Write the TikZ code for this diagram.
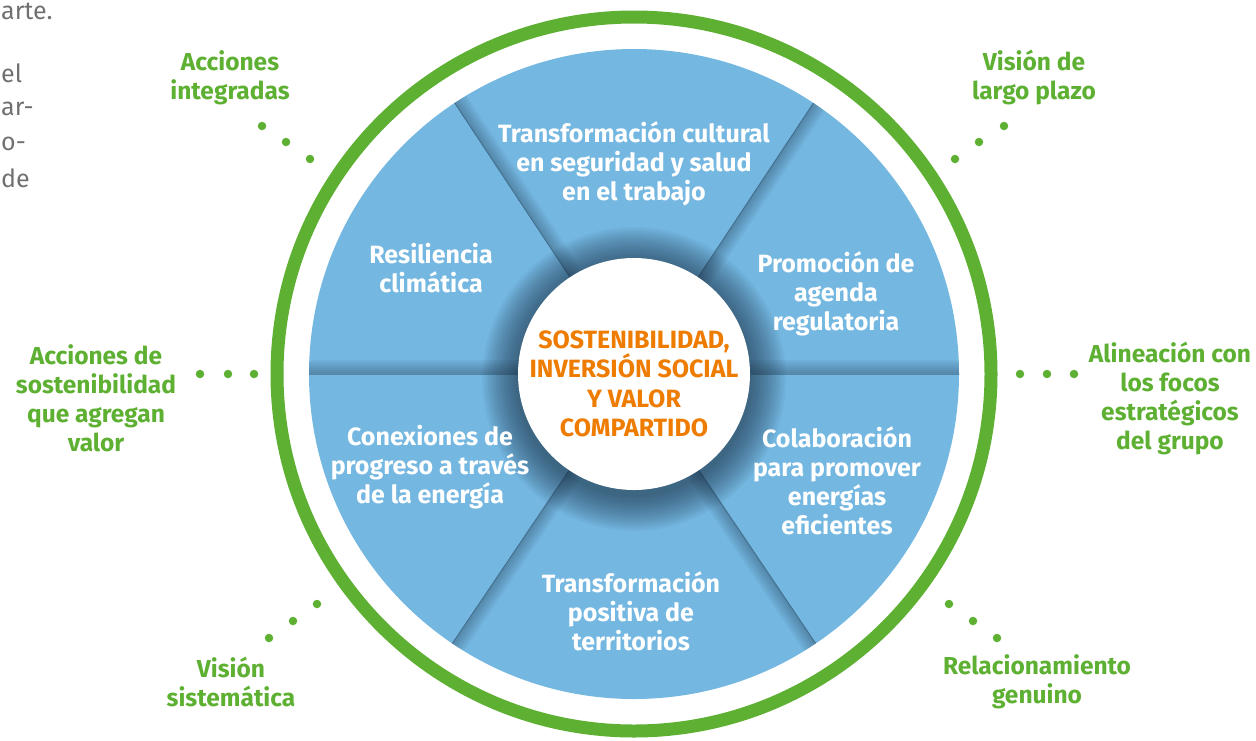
\documentclass[tikz,border=0pt]{standalone}
\usepackage{fontspec}
\setmainfont{Fira Sans}
\definecolor{ringgreen}{RGB}{94,176,50}
\definecolor{segblue}{RGB}{116,183,225}
\definecolor{coreorange}{RGB}{238,124,0}
\definecolor{shadowc}{RGB}{25,45,65}
\definecolor{greytext}{RGB}{112,112,112}
\begin{document}
\begin{tikzpicture}[x=1pt,y=-1pt,
  seglabel/.style={text=white, font=\bfseries\fontsize{25}{29}\selectfont, align=center, inner sep=0},
  outlabel/.style={text=ringgreen, font=\bfseries\fontsize{24.5}{29}\selectfont, align=center, inner sep=0},
  corelabel/.style={text=coreorange, font=\bfseries\fontsize{25}{29.5}\selectfont, align=center, inner sep=0},
  greyfrag/.style={text=greytext, font=\fontsize{25}{35}\selectfont, inner sep=0, anchor=base west},
  gdot/.style={circle, fill=ringgreen, inner sep=0, minimum size=8.5pt},
  ring/.style={draw=ringgreen, line width=13pt},
  shade/.style={fill=shadowc, opacity=0.05},
  divline/.style={draw=shadowc, opacity=0.35, line width=1pt}
]
\useasboundingbox (0,0) rectangle (1256,740);
\coordinate (C) at (634,374);

% grey text fragments at the left edge
\node[greyfrag] (g1) at (1,19) {arte.};
\node[greyfrag] (g2) at (1,82) {el};
\node[greyfrag] (g3) at (1,115) {ar-};
\node[greyfrag] (g4) at (1,150) {o-};
\node[greyfrag] (g5) at (1,187) {de};

% green ring
\draw[ring] (C) circle[radius=357pt];

% blue disk with shading
\fill[segblue] (C) circle[radius=325pt];
\begin{scope}
  \clip (C) circle[radius=325pt];
  \foreach \a/\s in {0/1, 56.5/-1, 123.5/-1, 180/-1, 236/1, 304/-1}{
    \begin{scope}[shift={(C)}, rotate=\a]
      \foreach \k in {2,4,...,14}{
        \fill[shade] (110pt,0pt) rectangle (330pt,\s*\k pt);
      }
      \draw[divline] (110pt,0pt) -- (330pt,0pt);
    \end{scope}
  }
  \foreach \r in {118,120,...,152}{
    \fill[fill=shadowc, opacity=0.045] (634,379) circle[radius=\r pt];
  }
\end{scope}

% centre
\node[circle, fill=white, minimum size=232pt, inner sep=0] (core) at (C) {};
\node[corelabel] (coretext) at (634,384) {SOSTENIBILIDAD,\\INVERSIÓN SOCIAL\\Y VALOR\\COMPARTIDO};

% segment labels
\node[seglabel] (s1) at (634,164) {Transformación cultural\\en seguridad y salud\\en el trabajo};
\node[seglabel] (s2) at (836,293.5) {Promoción de\\agenda\\regulatoria};
\node[seglabel] (s3) at (837,481) {Colaboración\\para promover\\energías\\eficientes};
\node[seglabel] (s4) at (631,611) {Transformación\\positiva de\\territorios};
\node[seglabel] (s5) at (430,467) {Conexiones de\\progreso a través\\de la energía};
\node[seglabel] (s6) at (431,268.5) {Resiliencia\\climática};

% outer labels
\node[outlabel] (o1) at (230,77.5) {Acciones\\integradas};
\node[outlabel] (o2) at (1034,77.5) {Visión de\\largo plazo};
\node[outlabel] (o3) at (1170,398.5) {Alineación con\\los focos\\estratégicos\\del grupo};
\node[outlabel] (o4) at (1037,681.5) {Relacionamiento\\genuino};
\node[outlabel] (o5) at (231,681.5) {Visión\\sistemática};
\node[outlabel] (o6) at (96,398.5) {Acciones de\\sostenibilidad\\que agregan\\valor};

% dots
\node[gdot] (d11) at (262,126) {};
\node[gdot] (d12) at (286,142) {};
\node[gdot] (d13) at (310,159) {};
\node[gdot] (d21) at (1004,126) {};
\node[gdot] (d22) at (979,142) {};
\node[gdot] (d23) at (955,159) {};
\node[gdot] (d31) at (1020,374) {};
\node[gdot] (d32) at (1047,374) {};
\node[gdot] (d33) at (1074,374) {};
\node[gdot] (d41) at (949,604) {};
\node[gdot] (d42) at (973,621) {};
\node[gdot] (d43) at (997,638) {};
\node[gdot] (d51) at (269,638) {};
\node[gdot] (d52) at (293,621) {};
\node[gdot] (d53) at (317,604) {};
\node[gdot] (d61) at (200,374) {};
\node[gdot] (d62) at (228,374) {};
\node[gdot] (d63) at (254,374) {};
\end{tikzpicture}
\end{document}
